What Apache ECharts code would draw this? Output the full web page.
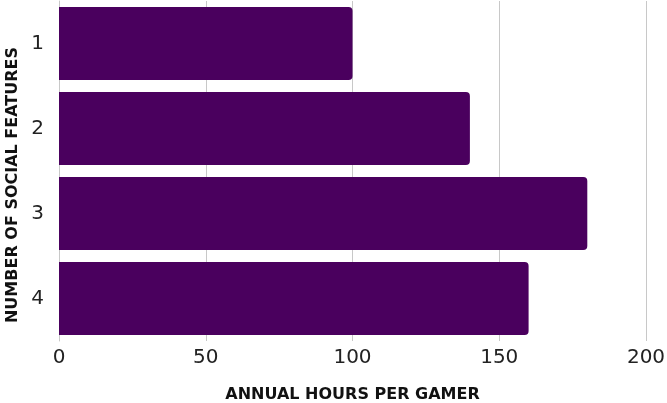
<!DOCTYPE html>
<html><head><meta charset="utf-8">
<script src="https://cdn.jsdelivr.net/npm/echarts@6/dist/echarts.min.js"></script>
<style>html,body{margin:0;padding:0;background:#fff}#c{width:667px;height:403px}</style>
</head><body><div id="c"></div>
<script>
const categories = ['1', '2', '3', '4'];
const hours = [100, 140, 180, 160];
const xTicks = [0, 50, 100, 150, 200];

const chart = echarts.init(document.getElementById('c'), null, {renderer: 'canvas'});
chart.setOption({
  backgroundColor: '#ffffff',
  animation: false,
  grid: {left: 59, right: 21, top: 1, bottom: 62, containLabel: false, outerBoundsMode: 'none'},
  xAxis: {
    type: 'value', min: xTicks[0], max: xTicks[xTicks.length - 1], interval: 50,
    name: 'ANNUAL HOURS PER GAMER', nameLocation: 'middle', nameGap: 46,
    nameTextStyle: {fontFamily: 'DejaVu Sans', fontWeight: 'bold', fontSize: 16, color: '#111'},
    axisLine: {show: false}, axisTick: {show: false},
    axisLabel: {fontFamily: 'DejaVu Sans', fontSize: 20, color: '#222', margin: 7},
    splitLine: {show: true, lineStyle: {color: '#c8c8c8', width: 1}}
  },
  yAxis: {
    type: 'category', data: categories, inverse: true,
    name: 'NUMBER OF SOCIAL FEATURES', nameLocation: 'middle', nameGap: 33,
    nameTextStyle: {fontFamily: 'DejaVu Sans', fontWeight: 'bold', fontSize: 16, color: '#111', padding: [0, 28, 0, 0]},
    axisLine: {show: true, lineStyle: {color: '#c8c8c8', width: 1}}, axisTick: {show: false},
    axisLabel: {fontFamily: 'DejaVu Sans', fontSize: 20, color: '#222', margin: 15}
  },
  series: [{
    type: 'bar', data: hours, barCategoryGap: '14%',
    itemStyle: {color: '#4a005e', borderRadius: [0, 4, 4, 0]}
  }]
});
</script></body></html>
